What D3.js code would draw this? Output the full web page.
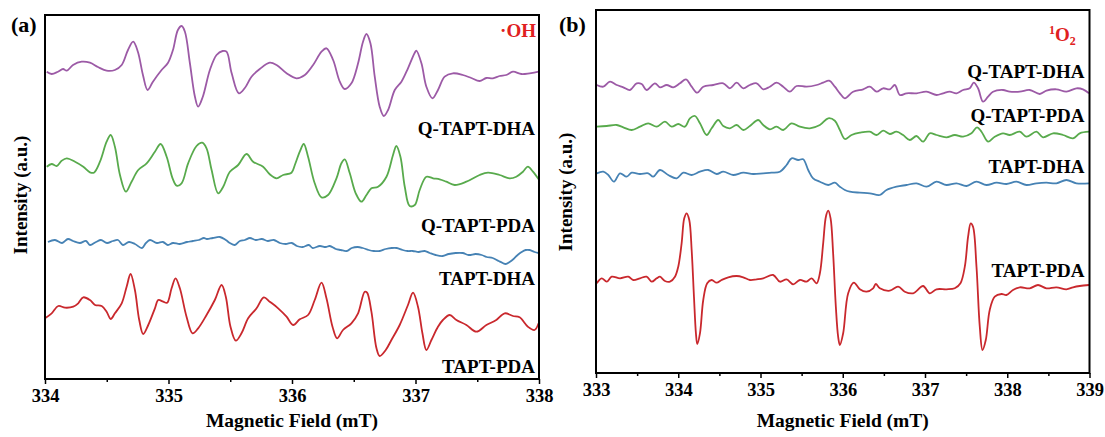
<!DOCTYPE html>
<html>
<head>
<meta charset="utf-8">
<script src="https://cdn.jsdelivr.net/npm/d3@7"></script>
<style>
  body { margin: 0; background: #fff; }
  svg text { font-family: "Liberation Serif", "Times New Roman", serif; font-weight: bold; }
</style>
</head>
<body>
<svg id="chart" width="1105" height="437"></svg>
<script>
// series labels (top to bottom)
const names = ["Q-TAPT-DHA", "Q-TAPT-PDA", "TAPT-DHA", "TAPT-PDA"]
const colours = ["#9c5aa6", "#58aa4c", "#4682b4", "#c9282d"]

// panel (a) .OH, field in mT, intensity in a.u. (stacked offsets included)
const ohQDHA = [[334.014,307.3],[334.054,305],[334.105,307.3],[334.146,310],[334.176,308.3],[334.227,314],[334.297,317.3],[334.364,316.3],[334.429,312],[334.499,308.3],[334.566,309],[334.621,314],[334.672,329],[334.714,337.3],[334.752,327.3],[334.793,304],[334.831,289],[334.874,297.3],[334.944,309],[334.995,316],[335.036,329],[335.076,349],[335.106,353],[335.133,347.3],[335.173,316],[335.214,282.3],[335.240,272.3],[335.278,282.3],[335.335,309],[335.389,324],[335.438,328],[335.470,327.3],[335.511,306],[335.570,285.7],[335.618,291],[335.672,302.3],[335.739,310],[335.820,316.3],[335.875,314],[335.956,305.7],[336.036,300.7],[336.104,304],[336.171,314],[336.239,327.3],[336.279,330.7],[336.333,319],[336.387,297.3],[336.427,290],[336.481,295.7],[336.535,315.7],[336.575,337.3],[336.603,345],[336.635,335.7],[336.670,302.3],[336.710,272.3],[336.743,263],[336.778,269],[336.832,289],[336.886,297.3],[336.939,310.7],[336.994,326.3],[337.007,328.3],[337.048,315.7],[337.088,292.3],[337.137,280.7],[337.182,289],[337.236,302.3],[337.303,305.7],[337.384,304],[337.452,301],[337.519,298],[337.573,301],[337.627,300.7],[337.680,303],[337.735,304],[337.789,307.3],[337.857,305],[337.924,305.7],[337.997,307.3]]
const ohQPDA = [[334.014,212.3],[334.054,215],[334.095,213],[334.135,218.3],[334.176,220.7],[334.243,217.3],[334.310,212.3],[334.364,206.7],[334.396,206.3],[334.445,217.3],[334.499,237.3],[334.532,244],[334.566,232.3],[334.607,204],[334.655,187.3],[334.701,197.3],[334.755,209],[334.823,215.7],[334.890,227.3],[334.936,235],[334.985,222.3],[335.033,200.7],[335.066,193.3],[335.106,195.7],[335.159,215.7],[335.227,233],[335.273,236.3],[335.308,230.7],[335.349,209],[335.402,185.7],[335.443,192.3],[335.497,207.3],[335.564,214],[335.632,225],[335.685,217.3],[335.766,212.3],[335.820,204.7],[335.875,200.7],[335.928,204],[335.996,206.3],[336.023,214],[336.063,227.3],[336.095,235],[336.130,222.3],[336.184,195.7],[336.239,181.7],[336.292,184],[336.360,200.7],[336.400,215.7],[336.427,219.7],[336.468,205.7],[336.516,185.7],[336.562,177.3],[336.603,184],[336.643,190.7],[336.697,192.3],[336.765,202.3],[336.818,224],[336.845,233],[336.878,222.3],[336.913,192.3],[336.953,173],[336.994,174],[337.034,189],[337.088,202.3],[337.142,200.7],[337.196,199.7],[337.250,197.3],[337.317,194],[337.412,197.3],[337.519,204],[337.587,206.3],[337.681,204],[337.762,200.7],[337.816,202.3],[337.870,207.3],[337.910,212.3],[337.951,207.3],[337.997,199.7]]
const ohTDHA = [[334.024,137],[334.081,139],[334.138,136],[334.186,140],[334.227,138],[334.283,136],[334.332,138],[334.364,134],[334.413,137],[334.453,139],[334.502,136],[334.550,138],[334.591,139],[334.631,134],[334.680,137],[334.728,135],[334.785,131],[334.817,136],[334.850,139],[334.906,136],[334.955,137],[334.995,134],[335.036,136],[335.092,135],[335.149,137],[335.197,138],[335.246,139],[335.286,141],[335.311,140],[335.359,141],[335.416,142],[335.464,139],[335.497,136],[335.537,134],[335.578,138],[335.618,139],[335.659,141],[335.707,139],[335.756,140],[335.804,138],[335.853,139],[335.901,136],[335.950,135],[335.998,136],[336.039,133],[336.087,132],[336.136,134],[336.168,131],[336.225,133],[336.273,132],[336.306,133],[336.354,130],[336.395,129],[336.443,128],[336.484,131],[336.532,132],[336.573,131],[336.621,129],[336.662,128],[336.710,128],[336.759,130],[336.807,131],[336.848,131],[336.896,129],[336.937,128],[336.977,128],[337.026,127],[337.074,128],[337.115,126],[337.163,124],[337.220,123],[337.269,125],[337.325,126],[337.382,126],[337.430,124],[337.487,125],[337.536,124],[337.576,122],[337.625,121],[337.673,118],[337.706,116],[337.730,115],[337.762,117],[337.794,120],[337.827,124],[337.859,127],[337.892,129],[337.924,129],[337.964,127],[337.997,126]]
const ohTPDA = [[334.000,60.7],[334.054,65.7],[334.108,73],[334.162,71.3],[334.229,72.3],[334.269,75.7],[334.310,81.7],[334.364,79],[334.405,74],[334.459,73],[334.499,67.3],[334.532,60],[334.566,65.7],[334.621,75.7],[334.661,92.3],[334.693,105],[334.728,89],[334.763,59],[334.795,45],[334.836,54],[334.890,70.7],[334.917,79],[334.957,77.3],[334.989,76.3],[335.025,90.7],[335.057,100.7],[335.092,90.7],[335.146,62.3],[335.195,45.7],[335.240,50.7],[335.308,64],[335.375,79],[335.430,94],[335.464,82.3],[335.502,52.3],[335.545,38.3],[335.591,45.7],[335.645,60.7],[335.713,70.7],[335.772,81.7],[335.820,77.3],[335.888,70.7],[335.956,62.3],[336.009,54],[336.063,59.7],[336.130,64],[336.184,79],[336.239,96.3],[336.279,80.7],[336.328,52.3],[336.365,40.7],[336.413,49],[336.481,55.7],[336.535,65.7],[336.589,87.3],[336.608,86.3],[336.643,67.3],[336.684,30.7],[336.710,23],[336.759,29],[336.805,39],[336.872,54],[336.939,74],[336.980,86.3],[337.020,72.3],[337.056,45.7],[337.088,29],[337.129,39],[337.182,52.3],[337.222,59],[337.277,64],[337.331,59],[337.412,54],[337.493,47.3],[337.574,54],[337.654,59],[337.722,65.7],[337.789,63],[337.843,61.7],[337.910,52.3],[337.964,49],[337.997,55.7]]

// panel (b) 1O2
const soQDHA = [[333.009,288],[333.089,286.3],[333.170,291.3],[333.252,288],[333.332,285.7],[333.413,283],[333.495,289.7],[333.555,289],[333.616,283],[333.717,289.7],[333.778,285.7],[333.859,288],[333.939,285.7],[334.021,289.7],[334.094,293.7],[334.163,286.3],[334.231,280.3],[334.304,286.3],[334.425,288],[334.547,289.7],[334.628,284.7],[334.710,290.3],[334.790,284.7],[334.871,288],[334.953,289.7],[335.033,283.7],[335.114,286.3],[335.196,290.3],[335.276,286.3],[335.357,281.3],[335.439,287],[335.560,286.3],[335.682,288],[335.762,290.3],[335.835,292.3],[335.904,286.3],[335.965,279.7],[336.026,274.7],[336.126,281.3],[336.248,283.7],[336.329,286.3],[336.411,281.3],[336.491,284.7],[336.572,283.7],[336.633,288],[336.694,278],[336.775,279.7],[336.897,279.7],[337.018,281.3],[337.140,278],[337.220,279.7],[337.301,281.3],[337.383,279.7],[337.463,283],[337.544,284.7],[337.593,290.3],[337.645,284.7],[337.706,271.3],[337.767,276.3],[337.827,281.3],[337.949,283],[338.030,281.3],[338.152,281.3],[338.273,283],[338.395,279],[338.476,282.3],[338.598,283.7],[338.719,281.3],[338.841,284.7],[338.921,283.7],[338.994,279.7]]
const soQPDA = [[333.009,246.3],[333.130,247],[333.252,248],[333.332,245.7],[333.434,243],[333.535,246.3],[333.635,249.7],[333.738,246.3],[333.838,251.3],[333.920,246.3],[334.000,249],[334.081,246.3],[334.142,254.7],[334.203,257],[334.264,249.7],[334.345,238],[334.406,244.7],[334.486,253],[334.547,247],[334.628,244.7],[334.710,248],[334.790,243],[334.871,247],[334.972,253],[335.033,248],[335.114,243.7],[335.196,246.3],[335.276,243],[335.378,249.7],[335.479,246.3],[335.600,244.7],[335.722,248],[335.823,254.7],[335.904,252.3],[335.965,243],[336.026,234],[336.107,238],[336.208,240.3],[336.329,241.3],[336.411,238],[336.491,242.3],[336.572,239],[336.653,241.3],[336.734,238],[336.815,233],[336.897,237],[336.977,231.3],[337.058,239.7],[337.140,238],[337.261,235.7],[337.362,238],[337.463,236.3],[337.565,239.7],[337.633,245.7],[337.687,241.3],[337.767,231.3],[337.848,236.3],[337.949,239.7],[338.030,238],[338.152,241.3],[338.233,236.3],[338.355,241.3],[338.435,235.7],[338.557,239.7],[338.678,238],[338.800,234.7],[338.881,239.7],[338.994,241.3]]
const soTDHA = [[333.009,199.7],[333.089,201.3],[333.149,198],[333.219,191.3],[333.292,199.7],[333.373,196.3],[333.434,200.3],[333.535,199],[333.635,199.7],[333.696,196.3],[333.778,203],[333.878,198],[333.981,194.7],[334.061,200.3],[334.163,198],[334.264,201.3],[334.365,203],[334.467,199],[334.547,201.3],[334.668,198],[334.790,200.3],[334.911,199],[335.033,199.7],[335.135,200.3],[335.236,201.3],[335.317,208],[335.378,214.7],[335.458,213],[335.519,213.7],[335.580,203],[335.640,194.7],[335.722,191.3],[335.823,188],[335.904,190.3],[335.965,186.3],[336.026,183],[336.086,181.3],[336.208,180.3],[336.329,179.7],[336.451,178],[336.532,183],[336.654,186.3],[336.775,188],[336.897,189.7],[337.018,186.3],[337.140,191.3],[337.261,188],[337.383,189.7],[337.504,187],[337.626,191.3],[337.747,188],[337.869,190.3],[337.990,189],[338.112,191.3],[338.233,188],[338.355,189.7],[338.476,190.3],[338.598,189.7],[338.719,193],[338.841,189.7],[338.994,189.7]]
const soTPDA = [[333.009,89.7],[333.069,94.7],[333.130,91.3],[333.191,96.3],[333.292,94.7],[333.392,96.3],[333.453,93],[333.535,94.7],[333.616,96.3],[333.677,91.3],[333.738,94.7],[333.778,96.3],[333.838,92],[333.899,91.3],[333.960,96.3],[334.000,106.3],[334.041,129.7],[334.073,154.7],[334.102,159.7],[334.134,153],[334.163,123],[334.191,76.3],[334.215,39.7],[334.231,29],[334.264,39.7],[334.304,73],[334.352,89.7],[334.406,93],[334.467,90.3],[334.527,93],[334.608,95.7],[334.710,97],[334.790,95.7],[334.871,93],[334.953,93.7],[335.033,94.7],[335.154,98],[335.236,91.3],[335.317,93.7],[335.397,88.7],[335.479,93],[335.560,91.3],[335.621,94.7],[335.682,89.7],[335.722,99.7],[335.762,129.7],[335.795,156.3],[335.823,162.3],[335.852,154.7],[335.883,119.7],[335.916,66.3],[335.944,36.3],[335.965,28],[336.005,39.7],[336.066,79.7],[336.135,90.3],[336.208,83.7],[336.289,81.3],[336.369,84.7],[336.402,89],[336.451,84.7],[336.572,82.3],[336.673,86.3],[336.754,81.3],[336.855,79.7],[336.977,87],[337.058,79.7],[337.140,83.7],[337.261,83.7],[337.362,84.7],[337.431,89.7],[337.484,106.3],[337.524,136.3],[337.556,149.7],[337.584,146.3],[337.626,106.3],[337.666,46.3],[337.699,23],[337.739,33],[337.787,63],[337.848,76.3],[337.930,79],[337.990,78],[338.070,83],[338.152,85.7],[338.273,84.7],[338.374,88],[338.476,84.7],[338.598,85.7],[338.719,83.7],[338.800,85.7],[338.881,87],[338.994,88]]

// where the series names sit (intensity a.u.)
const labelsA = [244, 147, 94, 6]
const labelsB = [295, 251, 200, 96]

const svg = d3.select("#chart")
svg.append("rect").attr("width", 1105).attr("height", 437).attr("fill", "#fff")

function panel(opts) {
  const x = d3.scaleLinear().domain(opts.xDomain).range([opts.left, opts.right])
  const y = d3.scaleLinear().domain(opts.yDomain).range([opts.bottom, opts.top])
  const g = svg.append("g")

  const line = d3.line()
    .x(d => x(d[0]))
    .y(d => y(d[1]))
    .curve(d3.curveCatmullRom.alpha(0.5))

  opts.series.forEach((s, i) => {
    g.append("path")
      .datum(s)
      .attr("fill", "none")
      .attr("stroke", colours[i])
      .attr("stroke-width", 1.8)
      .attr("stroke-linejoin", "round")
      .attr("d", line)
  })

  // series names
  opts.labels.forEach((v, i) => {
    g.append("text")
      .attr("x", opts.right - opts.labelPad)
      .attr("y", y(v))
      .attr("text-anchor", "end")
      .attr("font-size", 19)
      .text(names[i])
  })

  // minor ticks
  g.append("g")
    .attr("transform", "translate(0," + opts.bottom + ")")
    .call(d3.axisBottom(x).tickValues(opts.minor).tickSize(3).tickFormat(""))
    .call(a => a.select(".domain").remove())
    .call(a => a.selectAll("line").attr("stroke-width", 1.5))

  // major ticks
  g.append("g")
    .attr("transform", "translate(0," + opts.bottom + ")")
    .call(d3.axisBottom(x).tickValues(opts.major).tickSize(5).tickPadding(5).tickFormat(d3.format("d")))
    .call(a => a.select(".domain").remove())
    .call(a => a.selectAll("line").attr("stroke-width", 1.5))
    .call(a => a.selectAll("text")
      .attr("font-size", 18.5)
      .attr("font-family", "Liberation Serif, serif")
      .attr("font-weight", "bold")
      .attr("fill", "#000"))

  // frame
  g.append("rect")
    .attr("x", opts.left)
    .attr("y", opts.top)
    .attr("width", opts.right - opts.left)
    .attr("height", opts.bottom - opts.top)
    .attr("fill", "none")
    .attr("stroke", "#000")
    .attr("stroke-width", 2)

  g.append("text")
    .attr("x", (opts.left + opts.right) / 2)
    .attr("y", 427)
    .attr("text-anchor", "middle")
    .attr("font-size", 19.5)
    .text("Magnetic Field (mT)")

  g.append("text")
    .attr("transform", "translate(" + opts.yTitleX + "," + opts.yTitleY + ") rotate(-90)")
    .attr("text-anchor", "middle")
    .attr("font-size", 19)
    .text("Intensity (a.u.)")

  g.append("text")
    .attr("x", opts.tagX)
    .attr("y", 32)
    .attr("font-size", 22)
    .text(opts.tag)

  return g
}

const ga = panel({
  xDomain: [334, 338], yDomain: [0, 364],
  left: 45, right: 539, top: 15, bottom: 379,
  series: [ohQDHA, ohQPDA, ohTDHA, ohTPDA],
  labels: labelsA, labelPad: 4,
  major: [334, 335, 336, 337, 338],
  minor: [334.5, 335.5, 336.5, 337.5],
  yTitleX: 27, yTitleY: 195,
  tag: "(a)", tagX: 11
})
ga.append("text")
  .attr("x", 536).attr("y", 37)
  .attr("text-anchor", "end")
  .attr("font-size", 19)
  .attr("fill", "#e02020")
  .text("\u00b7OH")

const gb = panel({
  xDomain: [333, 339], yDomain: [0, 363],
  left: 596, right: 1089.5, top: 10, bottom: 373,
  series: [soQDHA, soQPDA, soTDHA, soTPDA],
  labels: labelsB, labelPad: 5,
  major: [333, 334, 335, 336, 337, 338, 339],
  minor: [333.5, 334.5, 335.5, 336.5, 337.5, 338.5],
  yTitleX: 572, yTitleY: 192,
  tag: "(b)", tagX: 559
})
const o2 = gb.append("text")
  .attr("x", 1049).attr("y", 41)
  .attr("font-size", 19)
  .attr("fill", "#e02020")
o2.append("tspan").attr("font-size", 12).attr("dy", -7).text("1")
o2.append("tspan").attr("dy", 7).text("O")
o2.append("tspan").attr("font-size", 12).attr("dy", 4).text("2")
</script>
</body>
</html>
